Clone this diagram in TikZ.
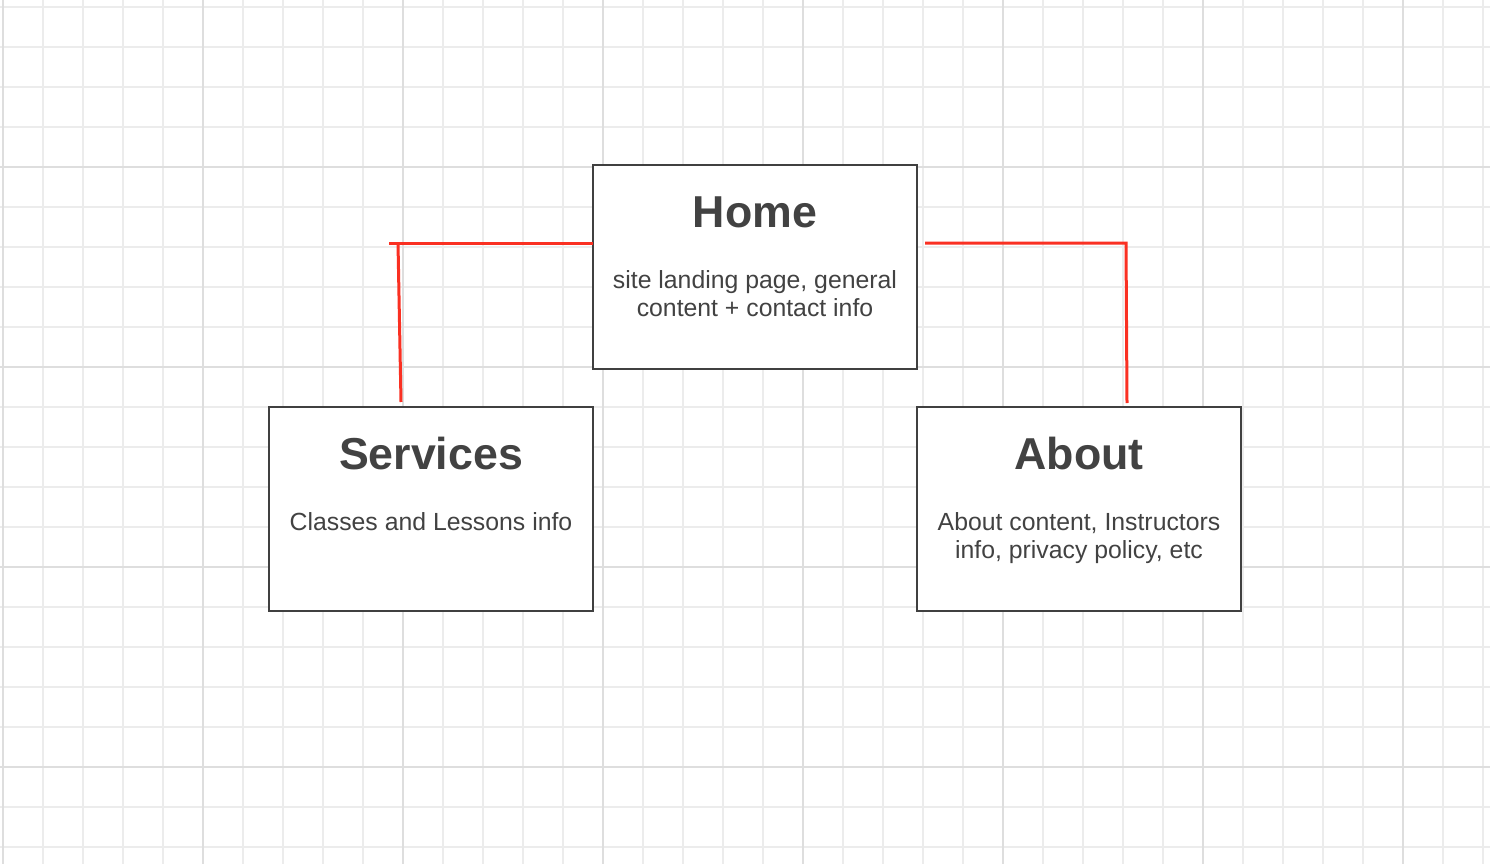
\documentclass[tikz,border=0pt]{standalone}
\usepackage{fontspec}
\setmainfont{Liberation Sans}
\definecolor{gridminor}{RGB}{236,236,236}
\definecolor{gridmajor}{RGB}{222,222,222}
\definecolor{boxline}{RGB}{64,64,64}
\definecolor{inktext}{RGB}{66,66,66}
\definecolor{linkred}{RGB}{250,48,34}
\begin{document}
\begin{tikzpicture}[x=1pt,y=-1pt,
  minorline/.style={draw=gridminor,line width=1.6pt},
  majorline/.style={draw=gridmajor,line width=1.8pt},
  pagebox/.style={draw=boxline,line width=2pt,fill=white,rectangle,
    minimum width=324pt,minimum height=204pt,inner sep=0pt,outer sep=0pt},
  titletext/.style={font=\fontsize{44.7}{50}\selectfont\bfseries,text=inktext,inner sep=0pt,anchor=base},
  bodytext/.style={font=\fontsize{24.8}{28}\selectfont,text=inktext,inner sep=0pt,align=center,anchor=base},
  link/.style={draw=linkred,line width=3pt}]
\useasboundingbox (0,0) rectangle (1490,864);
\fill[white] (0,0) rectangle (1490,864);

% background grid
\foreach \i in {0,...,37} \draw[minorline] ({3+40*\i},0) -- ({3+40*\i},864);
\foreach \j in {0,...,21} \draw[minorline] (0,{7+40*\j}) -- (1490,{7+40*\j});
\foreach \x in {3,203,...,1403} \draw[majorline] (\x,0) -- (\x,864);
\foreach \y in {167,367,567,767} \draw[majorline] (0,\y) -- (1490,\y);

% pages
\node[pagebox] (home) at (755,267) {};
\node[pagebox] (services) at (431,509) {};
\node[pagebox] (about) at (1079,509) {};

% titles sit on a baseline 62pt below the top edge; body text starts 123pt below it
\node[titletext] (hometitle) at ([yshift=-62pt]home.north) {Home};
\node[bodytext] (homebody) at ([yshift=-151pt]home.north) {site landing page, general\\content + contact info};

\node[titletext] (servicestitle) at ([yshift=-62pt]services.north) {Services};
\node[bodytext] (servicesbody) at ([yshift=-123pt]services.north) {Classes and Lessons info};

\node[titletext] (abouttitle) at ([yshift=-62pt]about.north) {About};
\node[bodytext] (aboutbody) at ([yshift=-151pt]about.north) {About content, Instructors\\info, privacy policy, etc};

% connectors
\coordinate (lstub) at (389,243);
\coordinate (lbend) at (398,243);
\coordinate (lend) at (401,402);
\draw[link] (lstub) -- (lstub -| home.west);
\draw[link] (lbend) -- (lend);

\coordinate (rstart) at (925,243);
\coordinate (rbend) at (1126,243);
\coordinate (rend) at (1127,403);
\draw[link] (rstart) -- (rbend) -- (rend);
\end{tikzpicture}
\end{document}
